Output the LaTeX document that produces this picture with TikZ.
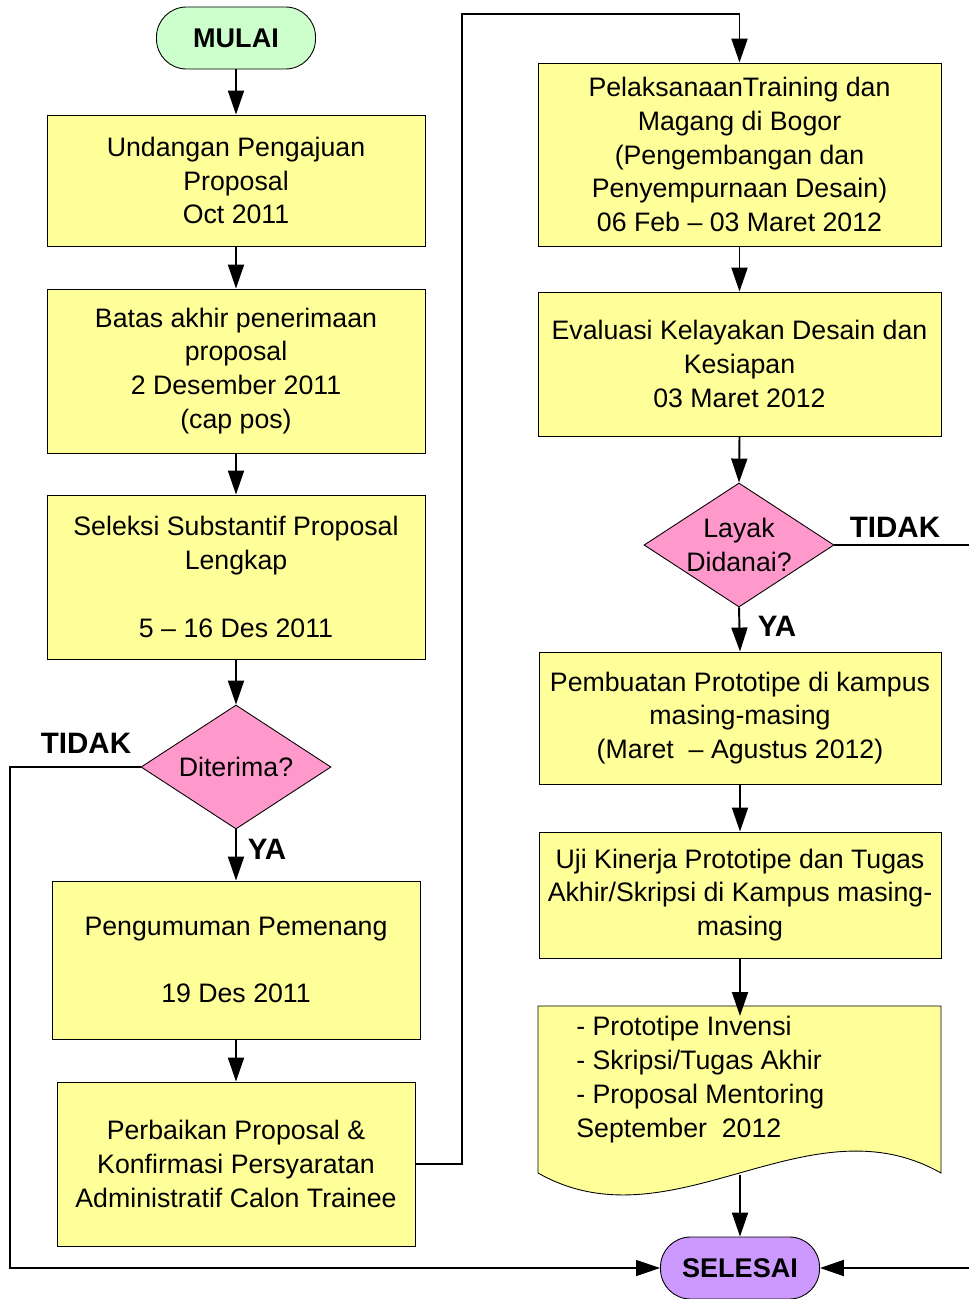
\documentclass[tikz,border=0pt]{standalone}
\usepackage{fontspec}
\setmainfont{Liberation Sans}
\usetikzlibrary{positioning, shapes.geometric, arrows.meta}

\definecolor{kuning}{HTML}{FFFF99}
\definecolor{merahmuda}{HTML}{FF99CC}
\definecolor{hijaumuda}{HTML}{CCFFCC}
\definecolor{ungu}{HTML}{CC99FF}

\begin{document}
\begin{tikzpicture}[every node/.style={align=center, font=\fontsize{15.2}{19.3}\selectfont},
	>={Triangle[length=0.48cm, width=0.32cm]},
	proses/.style={draw, fill=kuning, line width=0.5pt, inner sep=0pt},
	ujung/.style={draw, line width=0.5pt, rounded corners=0.6cm, minimum width=3.18cm, minimum height=1.24cm, font=\fontsize{15.4}{18}\selectfont\bfseries},
	putusan/.style={draw, diamond, fill=merahmuda, line width=0.5pt, inner sep=0pt, aspect=1.53, minimum width=3.8cm, minimum height=2.48cm},
	jawab/.style={font=\fontsize{16.8}{20}\selectfont\bfseries},
	alur/.style={line width=1.1pt, black}]

			\useasboundingbox (0,0) rectangle (19.38,-25.98);

			% Kolom kiri
			\node[ujung, fill=hijaumuda] (mulai) at (4.72,-0.76) {MULAI};
			\node[proses, minimum width=7.56cm, minimum height=2.62cm] (undangan) at (4.72,-3.61) {Undangan Pengajuan\\Proposal\\Oct 2011};
			\node[proses, minimum width=7.56cm, minimum height=3.28cm] (batas) at (4.72,-7.42) {Batas akhir penerimaan\\proposal\\2 Desember 2011\\(cap pos)};
			\node[proses, minimum width=7.56cm, minimum height=3.28cm] (seleksi) at (4.72,-11.54) {Seleksi Substantif Proposal\\Lengkap\\~\\5 – 16 Des 2011};
			\node[putusan] (diterima) at (4.72,-15.34) {Diterima?};
			\node[proses, minimum width=7.36cm, minimum height=3.16cm] (umum) at (4.72,-19.2) {Pengumuman Pemenang\\~\\19 Des 2011};
			\node[proses, minimum width=7.16cm, minimum height=3.28cm] (perbaikan) at (4.72,-23.28) {Perbaikan Proposal \&\\Konfirmasi Persyaratan\\Administratif Calon Trainee};

			% Kolom kanan
			\node[proses, minimum width=8.06cm, minimum height=3.66cm] (training) at (14.79,-3.09) {PelaksanaanTraining dan\\Magang di Bogor\\(Pengembangan dan\\Penyempurnaan Desain)\\06 Feb – 03 Maret 2012};
			\node[proses, minimum width=8.06cm, minimum height=2.88cm] (evaluasi) at (14.79,-7.28) {Evaluasi Kelayakan Desain dan\\Kesiapan\\03 Maret 2012};
			\node[putusan] (layak) at (14.78,-10.9) {Layak\\Didanai?};
			\node[proses, minimum width=8.04cm, minimum height=2.64cm] (pembuatan) at (14.8,-14.36) {Pembuatan Prototipe di kampus\\masing-masing\\(Maret \ – Agustus 2012)};
			\node[proses, minimum width=8.04cm, minimum height=2.52cm] (uji) at (14.8,-17.9) {Uji Kinerja Prototipe dan Tugas\\Akhir/Skripsi di Kampus masing-\\masing};

			% Dokumen hasil
			\draw[fill=kuning, line width=0.5pt] (10.76,-20.12) -- (18.82,-20.12) -- (18.82,-23.46)
				.. controls (16.14,-21.94) and (13.44,-24.98) .. (10.76,-23.46) -- cycle;
			\node[anchor=north west, align=left, inner sep=0pt] (hasil) at (11.52,-20.32) {- Prototipe Invensi\\- Skripsi/Tugas Akhir\\- Proposal Mentoring\\September\ \ 2012};
			\coordinate (hasilbawah) at (14.8,-23.5);

			\node[ujung, fill=ungu] (selesai) at (14.8,-25.36) {SELESAI};

			% Label jawaban
			\node[jawab] (tidak1) at (1.72,-14.86) {TIDAK};
			\node[jawab] (ya1) at (5.34,-16.98) {YA};
			\node[jawab] (tidak2) at (17.9,-10.54) {TIDAK};
			\node[jawab] (ya2) at (15.54,-12.52) {YA};

			% Titik belok
			\coordinate (atas) at (9.24,-0.28);
			\coordinate (kiri) at (0.2,-15.34);
			\coordinate (kanan) at (19.38,-10.9);
			\coordinate (kananbawah) at (19.38,-25.36);

			% Panah kolom kiri
			\draw[->, alur] (mulai.south) -- (undangan.north);
			\draw[->, alur] (undangan.south) -- (batas.north);
			\draw[->, alur] (batas.south) -- (seleksi.north);
			\draw[->, alur] (seleksi.south) -- (diterima.north);
			\draw[->, alur] (diterima.south) -- (umum.north);
			\draw[->, alur] (umum.south) -- (perbaikan.north);
			% Panah ke kolom kanan
			\draw[->, alur] (perbaikan.east) -| (atas) -| (training.north);
			% Panah kolom kanan
			\draw[->, alur] (training.south) -- (evaluasi.north);
			\draw[->, alur] (evaluasi.south) -- (layak.north);
			\draw[->, alur] (layak.south) -- (pembuatan.north);
			\draw[->, alur] (pembuatan.south) -- (uji.north);
			\draw[->, alur] (uji.south) -- (hasil.north -| uji.south);
			\draw[->, alur] (hasilbawah) -- (selesai.north);
			% Panah TIDAK
			\draw[->, alur, line width=0.7pt] (diterima.west) -- (kiri) |- (selesai.west);
			\draw[alur] (layak.east) -- (kanan);
			\draw[->, alur] (kananbawah) -- (selesai.east);
		\end{tikzpicture}
\end{document}
